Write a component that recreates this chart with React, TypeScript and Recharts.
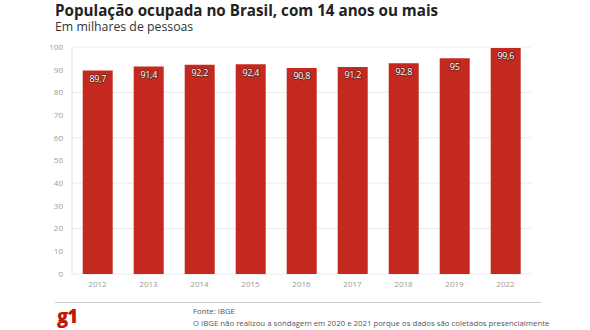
import React from "react";
import { BarChart, Bar, XAxis, YAxis, CartesianGrid, LabelList } from "recharts";

const years = ["2012", "2013", "2014", "2015", "2016", "2017", "2018", "2019", "2022"];
const values = [89.7, 91.4, 92.2, 92.4, 90.8, 91.2, 92.8, 95, 99.6];
const yTicks = [0, 10, 20, 30, 40, 50, 60, 70, 80, 90, 100];

const data = years.map((y, i) => ({ year: y, value: values[i] }));

const FONT = "'Open Sans', sans-serif";

const renderLabel = (props: any) => {
  const { x, y, width, value } = props;
  return (
    <text
      x={x + width / 2}
      y={y + 8}
      textAnchor="middle"
      dominantBaseline="central"
      fontFamily={FONT}
      fontSize={9}
      fill="#fff"
      stroke="#6e2520"
      strokeWidth={1.6}
      paintOrder="stroke"
      letterSpacing={-0.3}
    >
      {String(value).replace(".", ",")}
    </text>
  );
};

export default function App() {
  return (
    <div style={{ position: "absolute", left: 0, top: 0, width: 590, height: 330, background: "#fff", fontFamily: FONT }}>
      <div style={{ position: "absolute", left: 55, top: 0, fontSize: 15.2, lineHeight: "20px", fontWeight: 700, color: "#222", whiteSpace: "nowrap" }}>
        População ocupada no Brasil, com 14 anos ou mais
      </div>
      <div style={{ position: "absolute", left: 55, top: 20, fontSize: 12.3, lineHeight: "14px", color: "#333", whiteSpace: "nowrap" }}>
        Em milhares de pessoas
      </div>
      <div style={{ position: "absolute", left: 0, top: 0 }}>
        <BarChart
          width={590}
          height={330}
          data={data}
          margin={{ top: 47, right: 59, bottom: 36, left: 42 }}
          barCategoryGap="21%"
        >
          <CartesianGrid vertical={false} stroke="#ebebeb" />
          <XAxis
            dataKey="year"
            axisLine={false}
            tickLine={false}
            height={20}
            tick={{ fontSize: 8, fill: "#999", fontFamily: FONT }}
            tickMargin={1}
          />
          <YAxis
            domain={[0, 100]}
            ticks={yTicks}
            width={30}
            axisLine={{ stroke: "#ddd" }}
            tickLine={false}
            tick={{ fontSize: 8, fill: "#999", fontFamily: FONT }}
            tickMargin={3}
          />
          <Bar dataKey="value" fill="#c4291f" isAnimationActive={false}>
            <LabelList dataKey="value" content={renderLabel} />
          </Bar>
        </BarChart>
      </div>
      <div style={{ position: "absolute", left: 55, top: 302, width: 486, height: 1, background: "#ccc" }} />
      <div style={{ position: "absolute", left: 57, top: 306, fontSize: 18.5, lineHeight: "20px", fontWeight: 800, color: "#c4170c", letterSpacing: -1 }}>
        g1
      </div>
      <div style={{ position: "absolute", left: 193, top: 305, fontSize: 7.8, color: "#555", lineHeight: "12px", whiteSpace: "nowrap" }}>
        Fonte: IBGE
        <br />
        O IBGE não realizou a sondagem em 2020 e 2021 porque os dados são coletados presencialmente
      </div>
    </div>
  );
}
